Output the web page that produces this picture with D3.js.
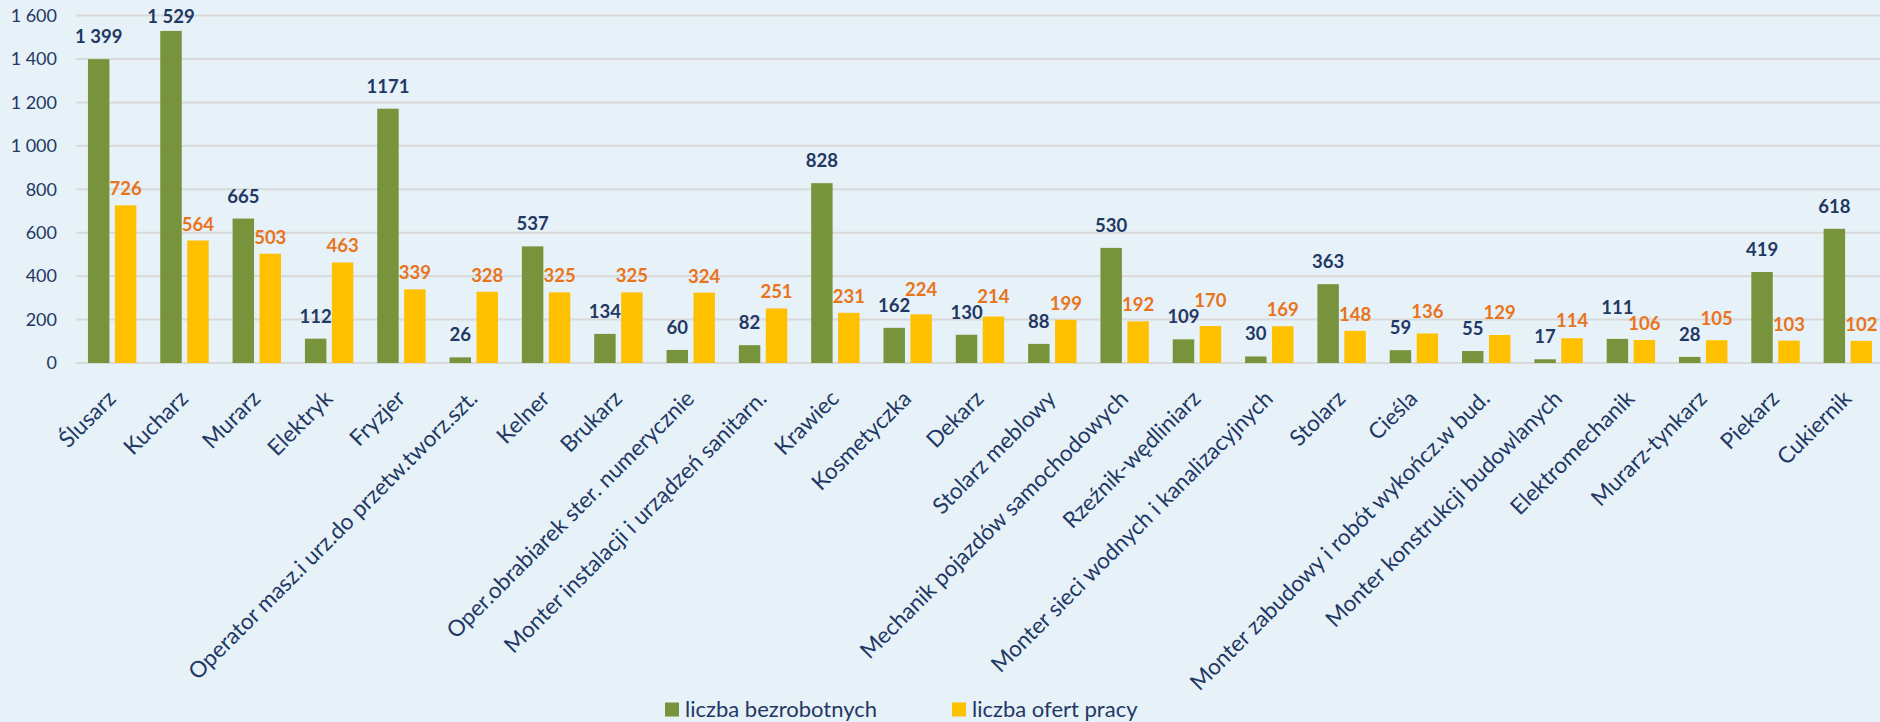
<!DOCTYPE html>
<html>
<head>
<meta charset="utf-8">
<script src="https://cdn.jsdelivr.net/npm/d3@7"></script>
<style>
  html, body { margin: 0; padding: 0; background: #E7F1F8; }
  svg { display: block; }
  text { font-family: Lato, "Open Sans", sans-serif; }
</style>
</head>
<body>
<svg id="chart" width="1880" height="722"></svg>
<script>
const categories = ["Ślusarz","Kucharz","Murarz","Elektryk","Fryzjer","Operator masz.i urz.do przetw.tworz.szt.","Kelner","Brukarz","Oper.obrabiarek ster. numerycznie","Monter instalacji i urządzeń sanitarn.","Krawiec","Kosmetyczka","Dekarz","Stolarz meblowy","Mechanik pojazdów samochodowych","Rzeźnik-wędliniarz","Monter sieci wodnych i kanalizacyjnych","Stolarz","Cieśla","Monter zabudowy i robót wykończ.w bud.","Monter konstrukcji budowlanych","Elektromechanik","Murarz-tynkarz","Piekarz","Cukiernik"];
const bezrobotni = [1399,1529,665,112,1171,26,537,134,60,82,828,162,130,88,530,109,30,363,59,55,17,111,28,419,618];
const bezrobotniLabels = ["1 399","1 529","665","112","1171","26","537","134","60","82","828","162","130","88","530","109","30","363","59","55","17","111","28","419","618"];
const oferty = [726,564,503,463,339,328,325,325,324,251,231,224,214,199,192,170,169,148,136,129,114,106,105,103,102];
const yTicks = [0,200,400,600,800,1000,1200,1400,1600];
const yTickLabels = ["0","200","400","600","800","1 000","1 200","1 400","1 600"];
const seriesNames = ["liczba bezrobotnych","liczba ofert pracy"];

const colors = {green:"#77933C", yellow:"#FFC000", navy:"#1F3864", orange:"#E8741C", grid:"#D9D9D9"};

const svg = d3.select("#chart");
const plot = {left:76, right:1884, top:15.5, bottom:363};

const x0 = d3.scaleBand().domain(categories).range([plot.left, plot.right]).paddingInner(0).paddingOuter(0);
const x1 = d3.scaleBand().domain(seriesNames).range([0, x0.bandwidth()]).paddingInner(0.204).paddingOuter(0.444);
const y = d3.scaleLinear().domain([0,1600]).range([plot.bottom, plot.top]);

// gridlines
svg.append("g").selectAll("line").data(yTicks).join("line")
  .attr("x1", plot.left).attr("x2", 1880)
  .attr("y1", d => y(d)).attr("y2", d => y(d))
  .attr("stroke", colors.grid).attr("stroke-width", 2);

// y tick labels
svg.append("g").selectAll("text").data(yTicks).join("text")
  .attr("x", 57).attr("y", d => y(d)).attr("dy", "0.35em")
  .attr("text-anchor", "end").attr("font-size", 18).attr("fill", colors.navy)
  .text((d,i) => yTickLabels[i]);

const series = [
  {name: seriesNames[0], values: bezrobotni, labels: bezrobotniLabels, color: colors.green, labelColor: colors.navy, gap: 16},
  {name: seriesNames[1], values: oferty, labels: oferty.map(String), color: colors.yellow, labelColor: colors.orange, gap: 10}
];

const labelSel = [];
series.forEach(s => {
  const g = svg.append("g");
  g.selectAll("rect").data(s.values).join("rect")
    .attr("x", (d,i) => x0(categories[i]) + x1(s.name))
    .attr("width", x1.bandwidth())
    .attr("y", d => y(d))
    .attr("height", d => y(0) - y(d))
    .attr("fill", s.color);
  labelSel.push(g.selectAll("text").data(s.values).join("text")
    .attr("x", (d,i) => x0(categories[i]) + x1(s.name) + x1.bandwidth()/2)
    .attr("y", d => Math.max(y(d) - s.gap, 23))
    .attr("text-anchor", "middle").attr("font-size", 18.5).attr("font-weight", "bold")
    .attr("fill", s.labelColor)
    .text((d,i) => s.labels[i]));
});

// resolve overlapping value labels within a category: lift the upper one
const gNodes = labelSel[0].nodes(), yNodes = labelSel[1].nodes();
categories.forEach((c,i) => {
  const a = gNodes[i], b = yNodes[i];
  const ba = a.getBBox(), bb = b.getBBox();
  const hOverlap = ba.x + ba.width > bb.x - 1 && bb.x + bb.width > ba.x - 1;
  const yaVal = +a.getAttribute("y"), ybVal = +b.getAttribute("y");
  if (hOverlap && Math.abs(yaVal - ybVal) < 16) {
    if (yaVal <= ybVal) a.setAttribute("y", ybVal - 16);
    else b.setAttribute("y", yaVal - 16);
  }
});

// category labels
svg.append("g").selectAll("text").data(categories).join("text")
  .attr("transform", d => `translate(${x0(d) + x0.bandwidth()/2 + 5},400) rotate(-45)`)
  .attr("text-anchor", "end").attr("font-size", 22.5).attr("fill", colors.navy)
  .text(d => d);

// legend
const legend = svg.append("g");
const legendX = [665, 952];
seriesNames.forEach((n,i) => {
  legend.append("rect").attr("x", legendX[i]).attr("y", 702.5).attr("width", 14).attr("height", 14)
    .attr("fill", i === 0 ? colors.green : colors.yellow);
  legend.append("text").attr("x", legendX[i] + 20).attr("y", 717)
    .attr("font-size", 22).attr("fill", colors.navy).text(n);
});
</script>
</body>
</html>
